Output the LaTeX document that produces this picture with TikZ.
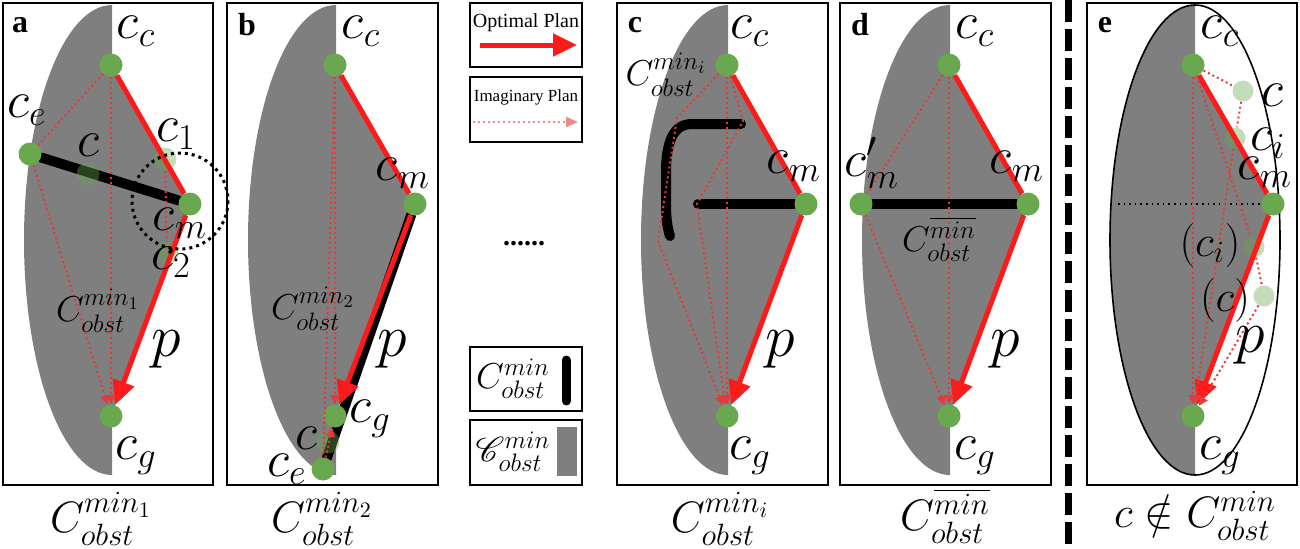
\RequirePackage{fix-cm}
\documentclass[tikz,border=0pt]{standalone}
\usepackage{fontspec}
\usepackage{amsmath}
\usepackage{amssymb}
\usepackage{mathrsfs}
\usetikzlibrary{arrows.meta}
\newfontfamily\tnr{Liberation Serif}
\definecolor{gr}{HTML}{6AA84F}
\definecolor{gy}{HTML}{7F7F7F}
\definecolor{re}{HTML}{FF1A1A}
\definecolor{pk}{HTML}{E33B3B}
\pgfdeclarelayer{back}
\pgfsetlayers{back,main}

\begin{document}
\begin{tikzpicture}[x = 0.5pt, y = -0.5pt,
  panel/.style = {draw = black, line width = 1pt},
  obst/.style = {fill = gy},
  cfg/.style = {circle, fill = gr, inner sep = 0pt, minimum size = 11.5pt},
  ghost/.style = {cfg, fill opacity = 0.4},
  opt/.style = {draw = re, line width = 2.5pt, -{Triangle[length = 12pt, width = 11pt]}},
  imag/.style = {draw = pk, line width = 1pt, dash pattern = on 1pt off 1.5pt, -{Triangle[length = 4.5pt, width = 4.5pt]}},
  bar/.style = {draw = black, line width = 5pt, line cap = round},
  lbl/.style = {inner sep = 0pt, font = \fontsize{26}{30}\selectfont},
  mid/.style = {inner sep = 0pt, font = \fontsize{22}{26}\selectfont},
  big/.style = {inner sep = 0pt, font = \fontsize{30}{34}\selectfont},
  ptitle/.style = {inner sep = 0pt, font = \fontsize{22}{26}\selectfont},
  sub/.style = {inner sep = 0pt, font = \fontsize{18}{22}\selectfont},
  tag/.style = {inner sep = 0pt, font = \tnr\bfseries\fontsize{16}{18}\selectfont}]
  \useasboundingbox (0,0) rectangle (1300,548);

  % panel a
  \draw[panel] (3,3) rectangle (213,485);
  \node[cfg] (ac) at (111,65) {};
  \node[cfg] (ae) at (30,154) {};
  \node[cfg] (am) at (190,204) {};
  \node[cfg] (ag) at (111,416) {};
  \node[ghost] (ax) at (88,174) {};
  \node[ghost] (a1) at (165,159) {};
  \node[ghost] (a2) at (167,253) {};
  \begin{pgfonlayer}{back}
    \begin{scope}
      \clip (3,0) rectangle (112,548);
      \fill[obst] (112,240) ellipse [x radius = 88, y radius = 235];
    \end{scope}
    \fill[obst] (ac.center) -- (am.center) -- (ag.center) -- cycle;
    \draw[bar] (ae) -- (am);
  \end{pgfonlayer}
  \draw[opt] (ac) -- (am) -- (ag);
  \draw[imag, -] (ac) -- (ae);
  \draw[imag] (ae) -- (ag);
  \draw[imag] (ac) -- (ag);
  \draw[imag, -] (a1) -- (a2);
  \draw[dotted, line width = 1.5pt] (180,201) circle [radius = 48];
  \node[tag] (ta) at (20,25) {a};
  \node[lbl] (lac) at (136,31) {$c_c$};
  \node[lbl] (lae) at (27,110) {$c_e$};
  \node[lbl] (lax) at (88,145) {$c$};
  \node[lbl] (la1) at (176,134) {$c_1$};
  \node[lbl] (lam) at (180,223) {$c_m$};
  \node[lbl] (la2) at (171,262) {$c_2$};
  \node[sub] (lao) at (98,311) {$C^{min_1}_{obst}$};
  \node[big] (lap) at (166,349) {$p$};
  \node[lbl] (lag) at (136,456) {$c_g$};
  \node[ptitle] (caa) at (101,519) {$C^{min_1}_{obst}$};

  % panel b
  \draw[panel] (227,3) rectangle (438,485);
  \node[cfg] (bc) at (335,65) {};
  \node[cfg] (bm) at (415,204) {};
  \node[cfg] (bg) at (335,416) {};
  \node[cfg] (be) at (323,469) {};
  \node[ghost] (bx) at (328,442) {};
  \begin{pgfonlayer}{back}
    \begin{scope}
      \clip (227,0) rectangle (336,548);
      \fill[obst] (336,240) ellipse [x radius = 88, y radius = 235];
    \end{scope}
    \fill[obst] (bc.center) -- (bm.center) -- (bg.center) -- cycle;
    \draw[bar] (bm) -- (be);
  \end{pgfonlayer}
  \draw[opt] (bc) -- (bm) -- (bg);
  \draw[imag, -] (bc) -- (be);
  \draw[imag] (be) -- (bg);
  \draw[imag] (bc) -- (bg);
  \node[tag] (tb) at (247,25) {b};
  \node[lbl] (lbc) at (361,31) {$c_c$};
  \node[lbl] (lbm) at (403,173) {$c_m$};
  \node[sub] (lbo) at (313,309) {$C^{min_2}_{obst}$};
  \node[big] (lbp) at (392,349) {$p$};
  \node[lbl] (lbg) at (370,419) {$c_g$};
  \node[lbl] (lbx) at (306,438) {$c$};
  \node[lbl] (lbe) at (287,469) {$c_e$};
  \node[ptitle] (cab) at (322,519) {$C^{min_2}_{obst}$};

  % legend
  \draw[panel] (470,3) rectangle (582,67);
  \node[inner sep = 0pt, font = \tnr\fontsize{10}{12}\selectfont] (lopt) at (526,23) {Optimal Plan};
  \coordinate (los) at (480,45);
  \coordinate (loe) at (577,45);
  \draw[opt] (los) -- (loe);
  \draw[panel] (470,77) rectangle (582,142);
  \node[inner sep = 0pt, font = \tnr\fontsize{8.5}{10}\selectfont] (limg) at (526,97) {Imaginary Plan};
  \coordinate (lis) at (473,122);
  \coordinate (lie) at (578,122);
  \draw[imag, draw = pk!60, -{Triangle[length = 6pt, width = 5pt]}] (lis) -- (lie);
  \node[inner sep = 0pt, font = \tnr\bfseries\fontsize{14}{16}\selectfont] (ldots) at (524,244) {......};
  \draw[panel] (470,347) rectangle (582,411);
  \node[sub] (lcmin) at (513,379) {$C^{min}_{obst}$};
  \coordinate (lbt) at (566,360);
  \coordinate (lbb) at (566,401);
  \draw[bar, line width = 4.5pt] (lbt) -- (lbb);
  \draw[panel] (470,420) rectangle (582,485);
  \node[sub] (lscr) at (513,452) {$\mathscr{C}^{min}_{obst}$};
  \fill[gy] (557,427) rectangle (577,476);

  % panel c
  \draw[panel] (617,3) rectangle (828,485);
  \node[cfg] (cc) at (727,65) {};
  \node[cfg] (cm) at (806,204) {};
  \node[cfg] (cg) at (727,416) {};
  \coordinate (ch) at (698,204);
  \coordinate (ci1) at (677,118);
  \coordinate (ci2) at (658,241);
  \coordinate (ci3) at (743,121);
  \coordinate (ci4) at (697,204);
  \begin{pgfonlayer}{back}
    \begin{scope}
      \clip (617,0) rectangle (728,548);
      \fill[obst] (728,240) ellipse [x radius = 87, y radius = 235];
    \end{scope}
    \fill[obst] (cc.center) -- (cm.center) -- (cg.center) -- cycle;
    \draw[bar] (ch) -- (cm);
    \draw[bar] (741,124) -- (692,124) .. controls (674,124) and (667,140) .. (666,168) -- (666,205) .. controls (666,220) and (668,230) .. (670,236);
  \end{pgfonlayer}
  \draw[opt] (cc) -- (cm) -- (cg);
  \draw[imag] (cc) -- (ci1) -- (ci2) -- (cg);
  \draw[imag] (cc) -- (ci3) -- (ci4) -- (cg);
  \draw[imag] (cc) -- (cg);
  \node[tag] (tc) at (635,25) {c};
  \node[lbl] (lcc) at (750,31) {$c_c$};
  \node[sub] (lco) at (666,75) {$C^{min_i}_{obst}$};
  \node[lbl] (lcm) at (794,166) {$c_m$};
  \node[big] (lcp) at (780,349) {$p$};
  \node[lbl] (lcg) at (750,456) {$c_g$};
  \node[ptitle] (cac) at (720,519) {$C^{min_i}_{obst}$};

  % panel d
  \draw[panel] (840,3) rectangle (1051,485);
  \node[cfg] (dc) at (949,65) {};
  \node[cfg] (dm) at (1028,204) {};
  \node[cfg] (dn) at (861,204) {};
  \node[cfg] (dg) at (949,416) {};
  \begin{pgfonlayer}{back}
    \begin{scope}
      \clip (840,0) rectangle (950,548);
      \fill[obst] (950,240) ellipse [x radius = 88, y radius = 235];
    \end{scope}
    \fill[obst] (dc.center) -- (dm.center) -- (dg.center) -- cycle;
    \draw[bar] (dn) -- (dm);
  \end{pgfonlayer}
  \draw[opt] (dc) -- (dm) -- (dg);
  \draw[imag, -] (dc) -- (dn);
  \draw[imag] (dn) -- (dg);
  \draw[imag] (dc) -- (dg);
  \node[tag] (td) at (860,25) {d};
  \node[lbl] (ldc) at (975,31) {$c_c$};
  \node[lbl] (ldn) at (872,163) {$c'_m$};
  \node[lbl] (ldm) at (1017,166) {$c_m$};
  \node[sub] (ldo) at (939,239) {$C^{\overline{min}}_{obst}$};
  \node[big] (ldp) at (1005,349) {$p$};
  \node[lbl] (ldg) at (975,456) {$c_g$};
  \node[ptitle] (cad) at (945,516) {$C^{\overline{min}}_{obst}$};

  % separator
  \coordinate (st) at (1068,0);
  \coordinate (sb) at (1068,548);
  \draw[line width = 3.5pt, dash pattern = on 11pt off 3.5pt] (st) -- (sb);

  % panel e
  \draw[panel] (1087,3) rectangle (1297,485);
  \node[cfg] (ec) at (1193,65) {};
  \node[cfg] (em) at (1273,204) {};
  \node[cfg] (eg) at (1193,416) {};
  \node[ghost, minimum size = 10.5pt] (ex) at (1243,91) {};
  \node[ghost, minimum size = 10.5pt] (ei) at (1235,138) {};
  \node[ghost, minimum size = 10.5pt] (eI) at (1254,247) {};
  \node[ghost, minimum size = 10.5pt] (eX) at (1264,296) {};
  \coordinate (eh) at (1118,204);
  \begin{pgfonlayer}{back}
    \begin{scope}
      \clip (1087,0) rectangle (1195,548);
      \fill[obst] (1195,240) ellipse [x radius = 85, y radius = 235];
    \end{scope}
    \fill[obst] (ec.center) -- (em.center) -- (eg.center) -- cycle;
    \draw[line width = 0.8pt] (1195,240) ellipse [x radius = 85, y radius = 235];
  \end{pgfonlayer}
  \draw[dotted, line width = 0.8pt] (eh) -- (em);
  \draw[opt] (ec) -- (em) -- (eg);
  \draw[imag] (ec) -- (ex) -- (ei) -- (eg);
  \draw[imag] (ec) -- (eI) -- (eX) -- (eg);
  \draw[imag] (ec) -- (eg);
  \node[tag] (te) at (1105,25) {e};
  \node[lbl] (lec) at (1220,31) {$c_c$};
  \node[lbl] (lex) at (1272,95) {$c$};
  \node[lbl] (lei) at (1268,143) {$c_i$};
  \node[lbl] (lem) at (1265,172) {$c_m$};
  \node[mid] (leI) at (1210,245) {$(c_i)$};
  \node[mid] (leX) at (1225,300) {$(c)$};
  \node[big] (lep) at (1250,345) {$p$};
  \node[lbl] (leg) at (1220,456) {$c_g$};
  \node[ptitle] (cae) at (1195,516) {$c \notin C^{min}_{obst}$};
\end{tikzpicture}
\end{document}
